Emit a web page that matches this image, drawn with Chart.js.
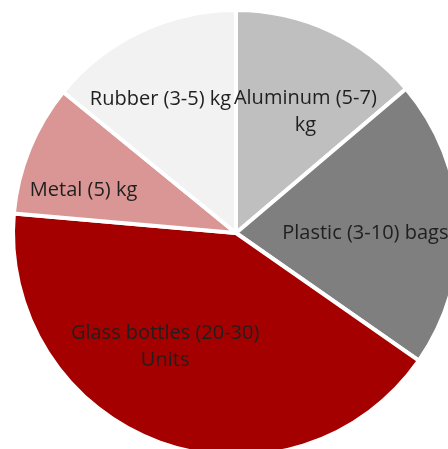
<!DOCTYPE html>
<html lang="en">
<head>
    <meta charset="UTF-8">
    <title>Recyclables pie</title>
    <style>
        html, body {
            margin: 0;
            padding: 0;
            background: #ffffff;
            overflow: hidden;
        }
        #wrap {
            position: relative;
            width: 448px;
            height: 449px;
            overflow: hidden;
        }
        #chart {
            position: absolute;
            left: 0;
            top: 0;
        }
    </style>
</head>
<body>
    <div id="wrap">
        <canvas id="chart" width="472" height="466"></canvas>
    </div>

    <script src="https://cdn.jsdelivr.net/npm/chart.js"></script>
    <script>
        // Data (shares, in percent)
        const labels = ['Aluminum (5-7) kg', 'Plastic (3-10) bags', 'Glass bottles (20-30) Units', 'Metal (5) kg', 'Rubber (3-5) kg'];
        const labelLines = [['Aluminum (5-7)', 'kg'], ['Plastic (3-10) bags'], ['Glass bottles (20-30)', 'Units'], ['Metal (5) kg'], ['Rubber (3-5) kg']];
        const shares = [13.8, 20.9, 41.7, 9.5, 14.1];
        const colors = ['#bfbfbf', '#7f7f7f', '#a50000', '#d99694', '#f2f2f2'];

        // label placement: fraction of radius, angle nudge in degrees
        const labelRadius = [0.625, 0.58, 0.6, 0.71, 0.69];
        const labelNudge = [5, 3, 12, -6.5, -4];

        const sliceLabels = {
            id: 'sliceLabels',
            afterDatasetsDraw(chart) {
                const ctx = chart.ctx;
                const arcs = chart.getDatasetMeta(0).data;
                ctx.save();
                ctx.font = '20px "Open Sans", "Noto Sans", sans-serif';
                ctx.fillStyle = '#1f1f1f';
                ctx.textAlign = 'center';
                ctx.textBaseline = 'middle';
                arcs.forEach((arc, i) => {
                    const mid = (arc.startAngle + arc.endAngle) / 2 + labelNudge[i] * Math.PI / 180;
                    const r = arc.outerRadius * labelRadius[i];
                    const x = arc.x + Math.cos(mid) * r;
                    const y = arc.y + Math.sin(mid) * r;
                    const lines = labelLines[i];
                    const lh = 27;
                    lines.forEach((line, j) => {
                        ctx.fillText(line, x, y + (j - (lines.length - 1) / 2) * lh);
                    });
                });
                ctx.restore();
            }
        };

        const chart = new Chart(document.getElementById('chart'), {
            type: 'pie',
            data: {
                labels: labels,
                datasets: [{
                    data: shares,
                    backgroundColor: colors,
                    borderColor: '#ffffff',
                    borderWidth: 4
                }]
            },
            options: {
                responsive: false,
                animation: false,
                layout: { padding: 8 },
                plugins: {
                    legend: { display: false },
                    tooltip: { enabled: false }
                }
            },
            plugins: [sliceLabels]
        });
    </script>
</body>
</html>
